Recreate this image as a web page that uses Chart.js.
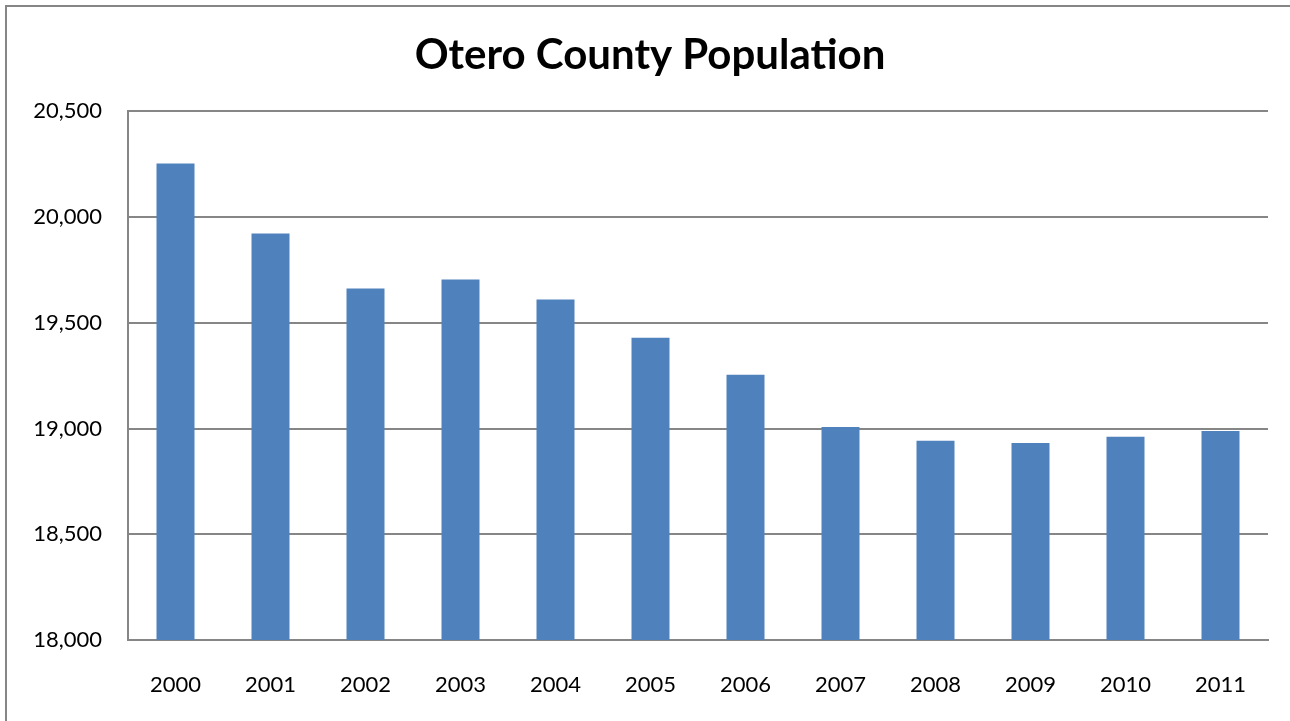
<!DOCTYPE html>
<html>
<head>
<meta charset="utf-8">
<title>Otero County Population</title>
<script src="https://cdn.jsdelivr.net/npm/chart.js@4.4.1/dist/chart.umd.min.js"></script>
<style>
  html, body { margin: 0; padding: 0; background: #fff; overflow: hidden; }
  #wrap { position: absolute; left: 0; top: 0; width: 1290px; height: 721px; }
</style>
</head>
<body>
<div id="wrap"><canvas id="popChart" width="1290" height="721"></canvas></div>
<script>
// values
const years = ["2000", "2001", "2002", "2003", "2004", "2005", "2006", "2007", "2008", "2009", "2010", "2011"];
const population = [20254, 19922, 19662, 19705, 19610, 19430, 19255, 19007, 18942, 18932, 18961, 18988];
const yTicks = [18000, 18500, 19000, 19500, 20000, 20500];

const gridGray = "#868686";

// outer frame of the chart (only left and top edges are visible in the picture)
const framePlugin = {
  id: "frame",
  beforeDraw(chart) {
    const ctx = chart.ctx;
    ctx.save();
    ctx.fillStyle = "#fff";
    ctx.fillRect(0, 0, chart.width, chart.height);
    ctx.strokeStyle = gridGray;
    ctx.lineWidth = 2;
    ctx.beginPath();
    ctx.moveTo(6, chart.height + 5);
    ctx.lineTo(6, 6);
    ctx.lineTo(chart.width + 5, 6);
    ctx.stroke();
    ctx.restore();
  }
};

new Chart(document.getElementById("popChart"), {
  type: "bar",
  data: {
    labels: years,
    datasets: [{
      label: "Population",
      data: population,
      backgroundColor: "#4F81BD",
      borderWidth: 0,
      barPercentage: 0.4,
      categoryPercentage: 1.0
    }]
  },
  options: {
    responsive: false,
    animation: false,
    // left padding keeps the title centred where the original has it
    layout: { padding: { left: 32, right: 22, top: 0, bottom: 0 } },
    plugins: {
      legend: { display: false },
      tooltip: { enabled: false },
      title: {
        display: true,
        text: "Otero County Population",
        color: "#000",
        font: { family: "Lato", size: 42, weight: "bold" },
        padding: { top: 30, bottom: 31 }
      }
    },
    scales: {
      x: {
        grid: { display: false, drawTicks: false },
        border: { display: true, color: gridGray, width: 2 },
        ticks: {
          color: "#000",
          font: { family: "Lato", size: 22 },
          padding: 32,
          maxRotation: 0
        },
        afterFit(scale) { scale.height = 81; }
      },
      y: {
        min: 18000,
        max: 20500,
        afterBuildTicks(scale) {
          scale.ticks = yTicks.map(v => ({ value: v }));
        },
        grid: { color: gridGray, lineWidth: 2, drawTicks: false },
        border: { display: true, color: gridGray, width: 2 },
        ticks: {
          color: "#000",
          font: { family: "Lato", size: 22 },
          padding: 26,
          callback: v => v.toLocaleString("en-US")
        },
        afterFit(scale) { scale.width = 96; }
      }
    }
  },
  plugins: [framePlugin]
});
</script>
</body>
</html>
